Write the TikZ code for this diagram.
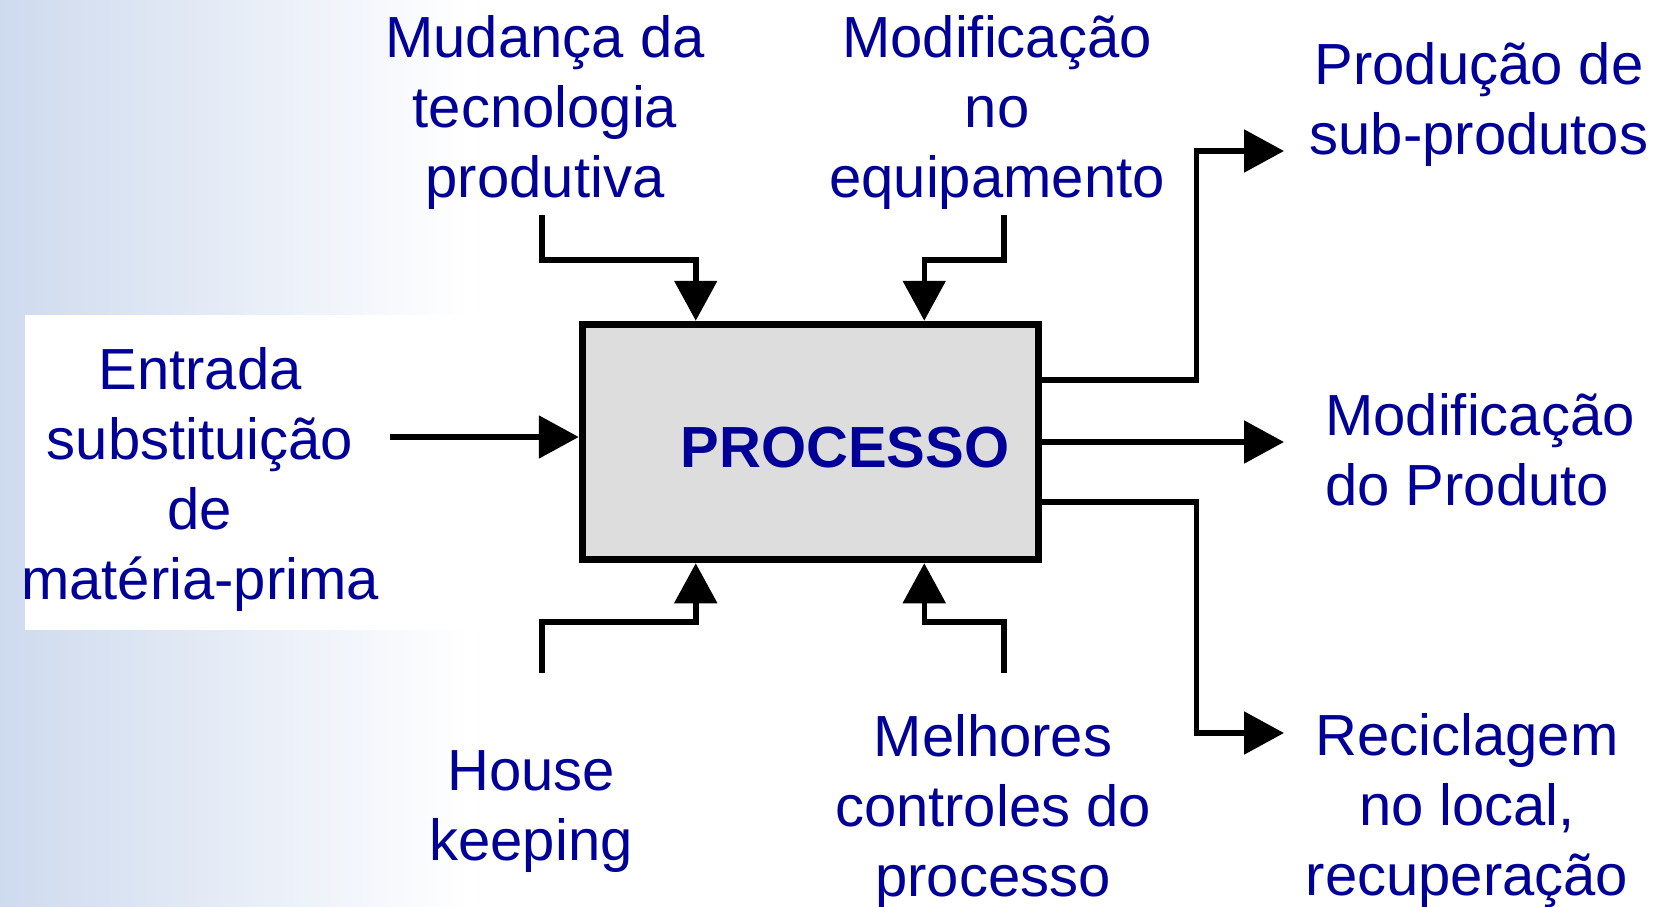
\documentclass[tikz,border=0pt]{standalone}
\usepackage{fontspec}
\setmainfont{Liberation Sans}
\usetikzlibrary{calc,positioning,arrows.meta}
\definecolor{navytext}{RGB}{0,0,153}
\definecolor{boxgray}{RGB}{221,221,221}
\definecolor{skyblue}{RGB}{206,218,238}
\tikzset{
  lbl/.style={text=navytext, align=center, inner sep=0pt, font=\fontsize{58}{70}\selectfont},
  procbox/.style={draw, line width=7.5pt, fill=boxgray, minimum width=456pt, minimum height=235pt, inner sep=0pt},
  conn/.style={line width=5.5pt, -{Triangle[length=40pt,width=42pt]}},
}

\begin{document}
\begin{tikzpicture}[x=1pt,y=-1pt]
\useasboundingbox (0,0) rectangle (1660,907);
% background
\shade[left color=skyblue, right color=white] (0,0) rectangle (470,907);
\fill[white] (25,315) rectangle (620,630);

\node[procbox] (proc) at (810.5,442) {};
\node[lbl, font=\fontsize{58}{70}\selectfont\bfseries, anchor=base] (proctxt) at (845,467) {PROCESSO};

\node[lbl] (mudanca) at (545,113) {Mudança da\\tecnologia\\produtiva};
\node[lbl] (equip) at (997,113) {Modificação\\no\\equipamento};
\node[lbl] (subprod) at (1479,105) {Produção de\\sub-produtos};
\node[lbl, align=left, anchor=west] (produto) at (1325,450) {Modificação\\do Produto};
\node[lbl] (recicl) at (1467,811) {Reciclagem\\no local,\\recuperação};
\node[lbl] (house) at (531,812) {House\\keeping};
\node[lbl] (controle) at (993,811) {Melhores\\controles do\\processo};
\node[lbl] (entrada) at (200,479) {Entrada\\substituição\\de\\matéria-prima};

\coordinate (in1) at (542,215);
\coordinate (in2) at (1004,215);
\coordinate (in3) at (542,673);
\coordinate (in4) at (1004,673);
\coordinate (src) at (390,437);
\coordinate (out1) at (1284,151);
\coordinate (out2) at (1284,442);
\coordinate (out3) at (1284,733);

\draw[conn] (in1) -- ++(0,45) -| ($(proc.north west)+(117,0)$);
\draw[conn] (in2) -- ++(0,45) -| ($(proc.north east)+(-118,0)$);
\draw[conn] (in3) -- ++(0,-51) -| ($(proc.south west)+(117,0)$);
\draw[conn] (in4) -- ++(0,-51) -| ($(proc.south east)+(-118,0)$);
\draw[conn] (src) -- (src -| proc.west);

\draw[conn] ($(proc.east)+(0,-62)$) -- ++(154,0) |- (out1);
\draw[conn] (proc.east) -- (out2);
\draw[conn] ($(proc.east)+(0,60)$) -- ++(154,0) |- (out3);
\end{tikzpicture}
\end{document}
